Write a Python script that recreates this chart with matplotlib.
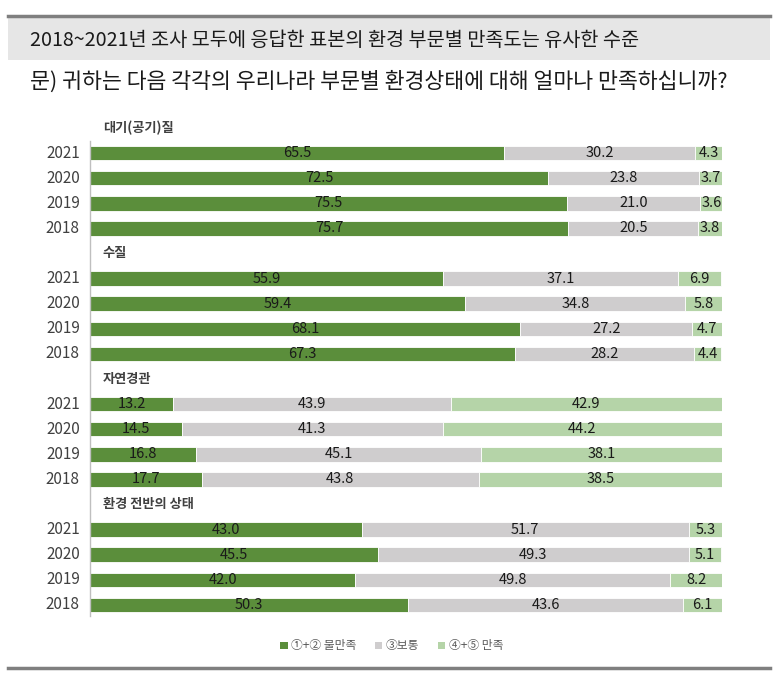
import numpy as np
import matplotlib
matplotlib.use("Agg")
import matplotlib.pyplot as plt
from matplotlib.patches import Rectangle, Patch
from matplotlib.lines import Line2D

plt.rcParams['font.family'] = ['Noto Sans CJK KR', 'DejaVu Sans']

title = "2018~2021년 조사 모두에 응답한 표본의 환경 부문별 만족도는 유사한 수준"
question = "문) 귀하는 다음 각각의 우리나라 부문별 환경상태에 대해 얼마나 만족하십니까?"
groups = ["대기(공기)질", "수질", "자연경관", "환경 전반의 상태"]
years = ["2021", "2020", "2019", "2018"]
series_names = ["①+② 불만족", "③보통", "④+⑤ 만족"]
colors = ["#5b8e3b", "#cfcdce", "#b5d4a8"]

# per group, rows are 2021..2018
unsatisfied = [[65.5, 72.5, 75.5, 75.7],
               [55.9, 59.4, 68.1, 67.3],
               [13.2, 14.5, 16.8, 17.7],
               [43.0, 45.5, 42.0, 50.3]]
neutral = [[30.2, 23.8, 21.0, 20.5],
           [37.1, 34.8, 27.2, 28.2],
           [43.9, 41.3, 45.1, 43.8],
           [51.7, 49.3, 49.8, 43.6]]
satisfied = [[4.3, 3.7, 3.6, 3.8],
             [6.9, 5.8, 4.7, 4.4],
             [42.9, 44.2, 38.1, 38.5],
             [5.3, 5.1, 8.2, 6.1]]

W, H = 780, 680
fig = plt.figure(figsize=(W / 100, H / 100), dpi=100)

def fx(px):
    return px / W

def fy(py):
    return 1 - py / H

# header box and rules
fig.add_artist(Rectangle((fx(8), fy(60)), fx(762), 43 / H, transform=fig.transFigure,
                         facecolor="#e6e6e6", edgecolor="none"))
fig.add_artist(Line2D([fx(8), fx(770)], [fy(16), fy(16)], transform=fig.transFigure,
                      color="#7f7f7f", lw=2.5))
fig.add_artist(Line2D([fx(8), fx(770)], [fy(668), fy(668)], transform=fig.transFigure,
                      color="#7f7f7f", lw=2.5))
fig.text(fx(30), fy(40), title, fontsize=14.2, va="center", ha="left", color="#1a1a1a")
fig.text(fx(30), fy(82), question, fontsize=15.6, va="center", ha="left", color="#1a1a1a")

# chart axes: slot s at pixel 128 + 25.1*s
top_px, bot_px = 115, 618
slot0, step = 128, 25.1
ax = fig.add_axes([fx(90), fy(bot_px), fx(722) - fx(90), (bot_px - top_px) / H])
ax.set_xlim(0, 100)
ax.set_ylim((bot_px - slot0) / step, (top_px - slot0) / step)
ax.axis("off")

bar_h = 0.58
for g, name in enumerate(groups):
    head = g * 5
    ax.text(2.0, head, name, fontsize=9.5, fontweight="bold", va="center", ha="left",
            color="#404040")
    for i, yr in enumerate(years):
        y = head + 1 + i
        vals = [unsatisfied[g][i], neutral[g][i], satisfied[g][i]]
        left = 0
        for v, c in zip(vals, colors):
            ax.barh(y, v, left=left, height=bar_h, color=c, edgecolor="white", linewidth=0.6)
            ax.text(left + v / 2, y, f"{v:.1f}", ha="center", va="center", fontsize=10.5,
                    fontweight="medium", color="#1a1a1a")
            left += v
        ax.text(-1.6, y, yr, ha="right", va="center", fontsize=11, color="#404040")

ax.plot([0, 0], [0.5, 19.45], color="#bfbfbf", lw=1, clip_on=False)

handles = [Patch(facecolor=c, edgecolor="none") for c in colors]
fig.legend(handles, series_names, loc="center", bbox_to_anchor=(fx(392), fy(646)),
           ncol=3, frameon=False, fontsize=8.5, handlelength=0.6, handleheight=0.6,
           handletextpad=0.3, columnspacing=1.6, labelcolor="#595959",
           prop={"weight": "medium", "size": 8.5})

fig.savefig("out.png", dpi=100)
